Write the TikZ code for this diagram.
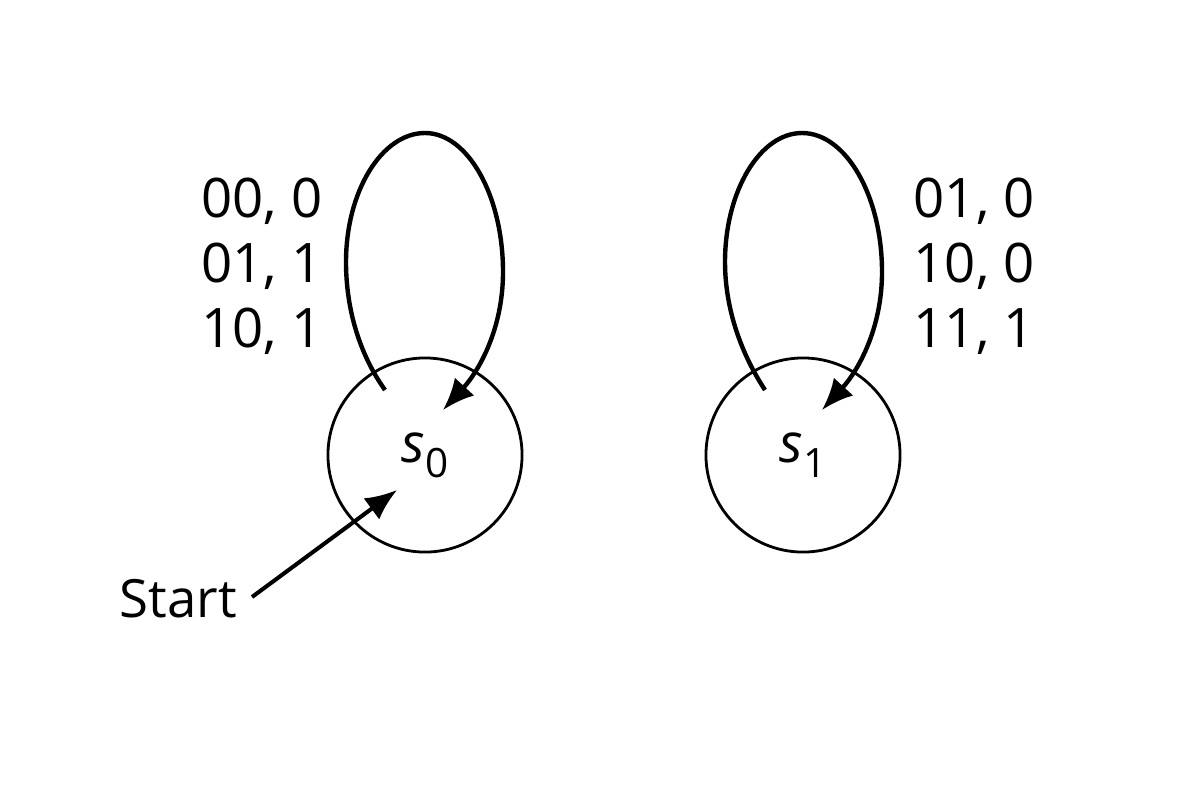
\documentclass[tikz,border=0pt]{standalone}
\usepackage{fontspec}
\setmainfont{Open Sans}
\usetikzlibrary{arrows.meta}
\begin{document}
\begin{tikzpicture}[x=0.01cm,y=-0.01cm,
  txt/.style={font=\fontsize{15.5}{18}\selectfont, inner sep=0pt},
  state/.style={draw, circle, minimum size=1.94cm, inner sep=0pt, line width=0.8pt, txt},
  loopedge/.style={line width=1.25pt, -{Latex[length=9pt,width=7.5pt]}},
  startedge/.style={line width=1.15pt, -{Latex[length=9pt,width=7.5pt]}}]
\useasboundingbox (0,0) rectangle (1180,784);
% states
\node[state] (s0) at (425,455) {\textit{s}\raisebox{-4.3pt}{\fontsize{11.5}{12}\selectfont 0}};
\node[state] (s1) at (803,455) {\textit{s}\raisebox{-4.3pt}{\fontsize{11.5}{12}\selectfont 1}};
% loop end points
\coordinate (a0) at (385,390);
\coordinate (b0) at (443,410);
\coordinate (a1) at (765,390);
\coordinate (b1) at (822,410);
% self loops
\draw[loopedge] (a0) .. controls (360,355) and (346,310) .. (346,262)
                     .. controls (346,191) and (382,133) .. (425,133)
                     .. controls (468,133) and (503,196) .. (503,272)
                     .. controls (503,330) and (478,372) .. (b0);
\draw[loopedge] (a1) .. controls (742,355) and (725,310) .. (725,262)
                     .. controls (725,191) and (760,133) .. (802,133)
                     .. controls (846,133) and (882,196) .. (882,272)
                     .. controls (882,330) and (857,372) .. (b1);
% loop labels
\node[txt, anchor=base east] (l0a) at (323,217) {00, 0};
\node[txt, anchor=base east] (l0b) at (323,282) {01, 1};
\node[txt, anchor=base east] (l0c) at (323,347) {10, 1};
\node[txt, anchor=base west] (l1a) at (913,217) {01, 0};
\node[txt, anchor=base west] (l1b) at (913,282) {10, 0};
\node[txt, anchor=base west] (l1c) at (913,347) {11, 1};
% start
\node[txt, anchor=base west, font=\fontsize{15}{18}\selectfont] (start) at (119,617) {Start};
\coordinate (st) at (252,597);
\coordinate (sh) at (397,490);
\draw[startedge] (st) -- (sh);
\end{tikzpicture}
\end{document}
